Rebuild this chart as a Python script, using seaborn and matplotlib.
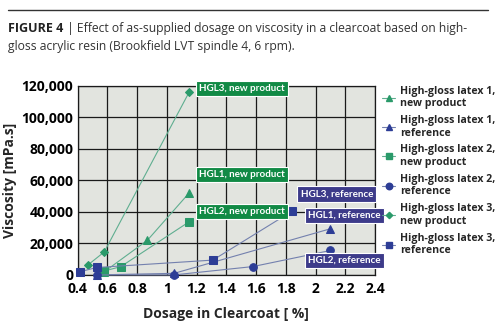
import numpy as np
import pandas as pd
import matplotlib
matplotlib.use("Agg")
import matplotlib.pyplot as plt
from matplotlib.lines import Line2D
from matplotlib.ticker import MultipleLocator, FuncFormatter
import seaborn as sns

# ---- data ----
hgl1_new_x = [0.58, 0.87, 1.15]
hgl1_new_y = [2000, 22000, 52000]
hgl1_ref_x = [0.53, 1.05, 2.10]
hgl1_ref_y = [0, 1000, 29300]
hgl2_new_x = [0.58, 0.69, 1.15]
hgl2_new_y = [2500, 5200, 33700]
hgl2_ref_x = [0.53, 1.05, 1.58, 2.10]
hgl2_ref_y = [0, 0, 5300, 15500]
hgl3_new_x = [0.47, 0.58, 1.15]
hgl3_new_y = [6300, 14600, 116000]
hgl3_ref_x = [0.42, 0.53, 1.31, 1.84]
hgl3_ref_y = [2100, 4700, 9400, 40300]

legend_labels = ["High-gloss latex 1,\nnew product", "High-gloss latex 1,\nreference",
                 "High-gloss latex 2,\nnew product", "High-gloss latex 2,\nreference",
                 "High-gloss latex 3,\nnew product", "High-gloss latex 3,\nreference"]
box_labels = ["HGL1, new product", "HGL1, reference", "HGL2, new product",
              "HGL2, reference", "HGL3, new product", "HGL3, reference"]
x_ticks = [0.4, 0.6, 0.8, 1.0, 1.2, 1.4, 1.6, 1.8, 2.0, 2.2, 2.4]
y_ticks = [0, 20000, 40000, 60000, 80000, 100000, 120000]

GREEN_M = "#2a9a6a"
GREEN_L = "#5fae90"
BLUE_M = "#2d3d96"
BLUE_L = "#7380ae"
GREEN_BOX = "#118a45"
BLUE_BOX = "#3d3b8a"

sns.set_theme(style="white")
plt.rcParams['font.family'] = ['Open Sans', 'DejaVu Sans']

fig = plt.figure(figsize=(5.0, 3.32), dpi=100)
ax = fig.add_axes([0.155, 0.172, 0.595, 0.569])
ax.set_facecolor("#e2e4df")

series = [
    (hgl1_new_x, hgl1_new_y, GREEN_M, GREEN_L, "^", 5.5),
    (hgl1_ref_x, hgl1_ref_y, BLUE_M, BLUE_L, "^", 5.5),
    (hgl2_new_x, hgl2_new_y, GREEN_M, GREEN_L, "s", 5.5),
    (hgl2_ref_x, hgl2_ref_y, BLUE_M, BLUE_L, "o", 5.5),
    (hgl3_new_x, hgl3_new_y, GREEN_M, GREEN_L, "D", 3.8),
    (hgl3_ref_x, hgl3_ref_y, BLUE_M, BLUE_L, "s", 5.5),
]

handles = []
for (xs, ys, mc, lc, mk, ms), lab in zip(series, legend_labels):
    df = pd.DataFrame({"x": xs, "y": ys})
    sns.lineplot(data=df, x="x", y="y", sort=False, ax=ax, color=lc, linewidth=0.8,
                 marker=mk, markersize=ms, markerfacecolor=mc, markeredgecolor=mc,
                 clip_on=False, zorder=3)
    handles.append(Line2D([], [], color=lc, linewidth=0.8, marker=mk, markersize=ms * 0.85,
                          markerfacecolor=mc, markeredgecolor=mc))

ax.set_xlim(0.4, 2.4)
ax.set_ylim(0, 120000)
ax.set_xticks(x_ticks)
ax.set_yticks(y_ticks)
ax.xaxis.set_minor_locator(MultipleLocator(0.04))
ax.yaxis.set_minor_locator(MultipleLocator(4000))
ax.xaxis.set_major_formatter(FuncFormatter(lambda v, p: f"{v:g}"))
ax.yaxis.set_major_formatter(FuncFormatter(lambda v, p: f"{int(v):,}"))
ax.grid(True, which="major", color="#1a1a1a", linewidth=0.9)
ax.set_axisbelow(True)
for s in ax.spines.values():
    s.set_color("#1a1a1a")
    s.set_linewidth(0.9)
ax.tick_params(axis="both", which="both", direction="in", colors="#1a1a1a",
               labelcolor="black", labelsize=10, pad=3)
ax.tick_params(axis="x", which="major", pad=5)
ax.tick_params(which="major", length=0)
ax.tick_params(which="minor", length=2.5, width=0.6)
fig.canvas.draw()
for t in ax.get_xticklabels() + ax.get_yticklabels():
    t.set_fontweight("bold")

ax.set_xlabel("Dosage in Clearcoat [ %]", fontsize=10, fontweight="bold", labelpad=8)
ax.set_ylabel("Viscosity [mPa.s]", fontsize=10, fontweight="bold", labelpad=3)

# label boxes
box_pos = [(1.22, 63800, GREEN_BOX), (1.95, 37900, BLUE_BOX), (1.22, 40200, GREEN_BOX),
           (1.95, 9100, BLUE_BOX), (1.22, 118500, GREEN_BOX), (1.90, 51300, BLUE_BOX)]
for (bx, by, bc), txt in zip(box_pos, box_labels):
    ax.text(bx, by, txt, color="white", fontsize=7.1, fontweight="bold", ha="left", va="center",
            zorder=5, clip_on=False, family=["Lato", "Open Sans", "DejaVu Sans"],
            bbox=dict(boxstyle="square,pad=0.32", facecolor=bc, edgecolor="white", linewidth=0.8))

leg = fig.legend(handles, legend_labels, loc="upper left", bbox_to_anchor=(0.755, 0.755),
                 frameon=False, prop={"weight": "bold", "size": 7.6}, handlelength=1.3,
                 handletextpad=0.4, labelspacing=0.55, borderaxespad=0)

# title
fig.add_artist(Line2D([0.016, 0.976], [0.97, 0.97], color="#333333", linewidth=1.0))
fig.text(0.016, 0.905, "FIGURE 4", fontsize=9, fontweight="bold", color="#222222",
         va="baseline", ha="left")
fig.text(0.128, 0.905, " | Effect of as-supplied dosage on viscosity in a clearcoat based on high-",
         fontsize=8.7, color="#333333", va="baseline", ha="left")
fig.text(0.016, 0.85, "gloss acrylic resin (Brookfield LVT spindle 4, 6 rpm).",
         fontsize=8.7, color="#333333", va="baseline", ha="left")

fig.savefig("out.png", dpi=100)
